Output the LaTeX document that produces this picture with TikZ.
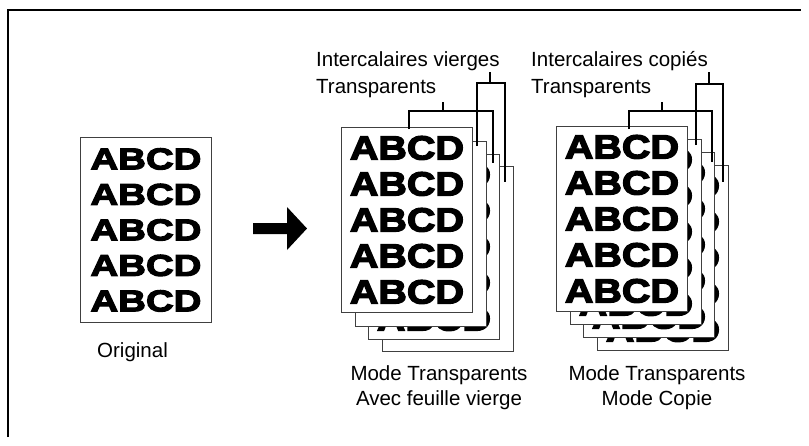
\documentclass[tikz,border=0pt]{standalone}
\usepackage{fontspec}
\setmainfont{Liberation Sans}
\newfontfamily\origfont{Liberation Sans Bold}[FakeStretch=1.28,FakeBold=4]
\newfontfamily\sheetfont{Liberation Sans Bold}[FakeStretch=1.18,FakeBold=4]

\newcommand{\abcd}{ABCD\\ABCD\\ABCD\\ABCD\\ABCD}

\tikzset{
  sheet/.style={draw=black!75, line width=0.9pt, fill=white, anchor=north west,
    minimum width=131pt, minimum height=185pt, inner sep=0pt, align=center},
  origtext/.style={font=\origfont\fontsize{30}{35.5}\selectfont},
  sheettext/.style={font=\sheetfont\fontsize{33.5}{36}\selectfont},
  lbl/.style={inner sep=0pt, font=\fontsize{20.5}{25.5}\selectfont},
  bracket/.style={line width=1.4pt},
}

\begin{document}
\begin{tikzpicture}[x=1pt,y=-1pt]
    \useasboundingbox (0,0) rectangle (809,445);
    \draw[line width=2pt] (8,437) -- (8,10) -- (801,10);

    % original
    \node[sheet, origtext] (orig) at (80,137) {\abcd};
    \node[lbl, anchor=base] (origlbl) at (132.5,357) {Original};

    \fill (253,223) -- (287,223) -- (287,207) -- (307,228.5) -- (287,250) -- (287,234) -- (253,234) -- cycle;

    % blank interleaves
    \node[sheet] (v4) at (382,166) {};
    \node[sheet, sheettext] (v3) at (368,154) {\abcd};
    \node[sheet] (v2) at (355,141) {};
    \node[sheet, sheettext] (v1) at (341,127) {\abcd};

    % copied interleaves
    \node[sheet, sheettext] (c4) at (597,165) {\abcd};
    \node[sheet, sheettext] (c3) at (583,152) {\abcd};
    \node[sheet, sheettext] (c2) at (570,139) {\abcd};
    \node[sheet, sheettext] (c1) at (556,126) {\abcd};

    \node[lbl, anchor=base west] (vierges) at (316,66) {Intercalaires vierges};
    \node[lbl, anchor=base west] (transpv) at (316,93) {Transparents};
    \node[lbl, anchor=base west] (copies) at (531,66) {Intercalaires copiés};
    \node[lbl, anchor=base west] (transpc) at (531,93) {Transparents};

    \draw[bracket] (409,129) |- (493,111) -- (493,163);
    \draw[bracket] (443,102) -- (443,111);
    \draw[bracket] (477,146) |- (505,83) -- (505,182);
    \draw[bracket] (490,72) -- (490,83);

    \draw[bracket] (629,129) |- (712,111) -- (712,162);
    \draw[bracket] (662,102) -- (662,111);
    \draw[bracket] (696,145) |- (723,84) -- (723,182);
    \draw[bracket] (709,72) -- (709,84);

    \node[lbl, align=center, anchor=north] (modev) at (439,365) {Mode Transparents\\Avec feuille vierge};
    \node[lbl, align=center, anchor=north] (modec) at (657,365) {Mode Transparents\\Mode Copie};
\end{tikzpicture}
\end{document}
